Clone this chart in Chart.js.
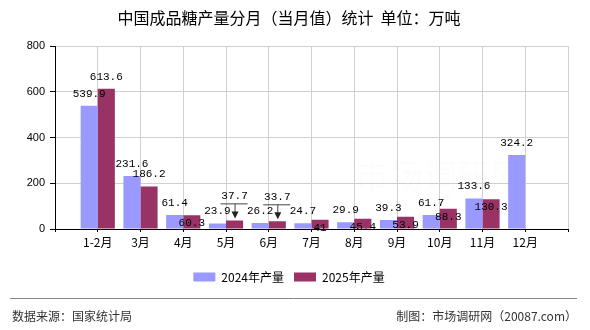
<!DOCTYPE html>
<html>
<head>
<meta charset="utf-8">
<script src="https://cdn.jsdelivr.net/npm/chart.js@4/dist/chart.umd.min.js"></script>
<style>
  html, body { margin: 0; padding: 0; background: #fff; }
  #wrap { width: 590px; height: 330px; }
</style>
</head>
<body>
<div id="wrap"><canvas id="myChart" width="590" height="330"></canvas></div>
<script>
// data
const categories = ['1-2月', '3月', '4月', '5月', '6月', '7月', '8月', '9月', '10月', '11月', '12月'];
const output2024 = [539.9, 231.6, 61.4, 23.9, 26.2, 24.7, 29.9, 39.3, 61.7, 133.6, 324.2];
const output2025 = [613.6, 186.2, 60.3, 37.7, 33.7, 41, 45.4, 53.9, 88.3, 130.3, null];
const seriesNames = ['2024年产量', '2025年产量'];
const yMin = 0, yMax = 800, yStep = 200;

// where the 2025 value labels sit (above bar, inside bar, or lifted with an arrow)
const place2025 = ['above', 'above', 'inside', 'arrow', 'arrow', 'inside', 'inside', 'inside', 'inside', 'inside'];

const CJK = '"Noto Sans CJK SC", "Noto Sans", sans-serif';
Chart.defaults.font.family = CJK;
Chart.defaults.color = '#000';

// value labels
const valueLabels = {
  id: 'valueLabels',
  afterDatasetsDraw(chart) {
    const ctx = chart.ctx;
    ctx.save();
    ctx.font = '11px "Liberation Mono", monospace';
    ctx.fillStyle = '#000';
    ctx.textAlign = 'center';
    ctx.textBaseline = 'middle';
    chart.getDatasetMeta(0).data.forEach((el, i) => {
      if (output2024[i] == null) return;
      ctx.fillText(String(output2024[i]), el.x, el.y - 12);
    });
    chart.getDatasetMeta(1).data.forEach((el, i) => {
      if (output2025[i] == null) return;
      const p = place2025[i];
      if (p === 'inside') {
        ctx.fillText(String(output2025[i]), el.x, el.y + 8);
      } else if (p === 'arrow') {
        ctx.fillText(String(output2025[i]), el.x, el.y - 24);
        ctx.strokeStyle = '#444';
        ctx.lineWidth = 1;
        ctx.beginPath();
        ctx.moveTo(el.x - 14, el.y - 16.5);
        ctx.lineTo(el.x + 13, el.y - 16.5);
        ctx.moveTo(el.x + 0.5, el.y - 16.5);
        ctx.lineTo(el.x + 0.5, el.y - 8);
        ctx.stroke();
        ctx.fillStyle = '#222';
        ctx.beginPath();
        ctx.moveTo(el.x - 3, el.y - 9);
        ctx.lineTo(el.x + 4, el.y - 9);
        ctx.lineTo(el.x + 0.5, el.y - 2);
        ctx.closePath();
        ctx.fill();
        ctx.fillStyle = '#000';
      } else {
        ctx.fillText(String(output2025[i]), el.x, el.y - 12);
      }
    });
    ctx.restore();
  }
};

// faint watermark + footer
const extras = {
  id: 'extras',
  beforeDatasetsDraw(chart) {
    const ctx = chart.ctx;
    ctx.save();
    ctx.fillStyle = 'rgba(0, 0, 60, 0.012)';
    ctx.textBaseline = 'middle';
    ctx.font = '34px ' + CJK;
    ctx.fillText('市场调研网', 355, 176);
    ctx.font = '12px ' + CJK;
    ctx.fillText('w w w . 2 0 0 8 7 . c o m', 365, 196);
    ctx.restore();
  },
  afterDraw(chart) {
    const ctx = chart.ctx;
    ctx.save();
    ctx.strokeStyle = '#888';
    ctx.lineWidth = 1;
    ctx.beginPath();
    ctx.moveTo(10, 298.5);
    ctx.lineTo(577, 298.5);
    ctx.stroke();
    ctx.fillStyle = '#333';
    ctx.font = '12px ' + CJK;
    ctx.textBaseline = 'middle';
    ctx.textAlign = 'left';
    ctx.fillText('数据来源：国家统计局', 12, 316);
    ctx.textAlign = 'right';
    ctx.fillText('制图：市场调研网（20087.com）', 577, 316);
    ctx.restore();
  }
};

const data = {
  datasets: [{
    label: seriesNames[0],
    data: output2024.map((v, i) => ({ x: i + 1, y: v })),
    backgroundColor: '#9999ff'
  }, {
    label: seriesNames[1],
    data: output2025.map((v, i) => ({ x: i + 1, y: v })),
    backgroundColor: '#993366'
  }]
};

const config = {
  type: 'bar',
  data,
  options: {
    responsive: false,
    animation: false,
    categoryPercentage: 0.8,
    barPercentage: 1.0,
    layout: { padding: { left: 10, right: 22, top: 0, bottom: 37 } },
    plugins: {
      title: {
        display: true,
        text: '中国成品糖产量分月（当月值）统计  单位：万吨',
        color: '#000',
        font: { size: 16, weight: 'normal', family: CJK },
        padding: { top: 8, bottom: 19 }
      },
      legend: {
        position: 'bottom',
        labels: {
          boxWidth: 22,
          boxHeight: 9,
          padding: 10,
          color: '#000',
          font: { size: 12, family: CJK }
        }
      },
      tooltip: { enabled: false }
    },
    scales: {
      x: {
        type: 'linear',
        offset: false,
        min: 0,
        max: categories.length + 1,
        afterFit(s) { s.height = 32; },
        grid: { offset: false, color: '#d0d0d0', tickColor: '#000', tickLength: 3 },
        border: { color: '#000' },
        ticks: {
          stepSize: 1,
          autoSkip: false,
          maxRotation: 0,
          padding: 3,
          color: '#000',
          font: { size: 12, family: CJK },
          callback: v => categories[v - 1] || ''
        }
      },
      y: {
        min: yMin,
        max: yMax,
        afterFit(s) { s.width = 45; },
        grid: { color: '#d0d0d0', tickColor: '#000', tickLength: 5 },
        border: { color: '#000' },
        ticks: {
          stepSize: yStep,
          padding: 5,
          color: '#000',
          font: { size: 11, family: '"Liberation Sans", Arial, sans-serif' }
        }
      }
    }
  },
  plugins: [extras, valueLabels]
};

const myChart = new Chart(document.getElementById('myChart'), config);
</script>
</body>
</html>
